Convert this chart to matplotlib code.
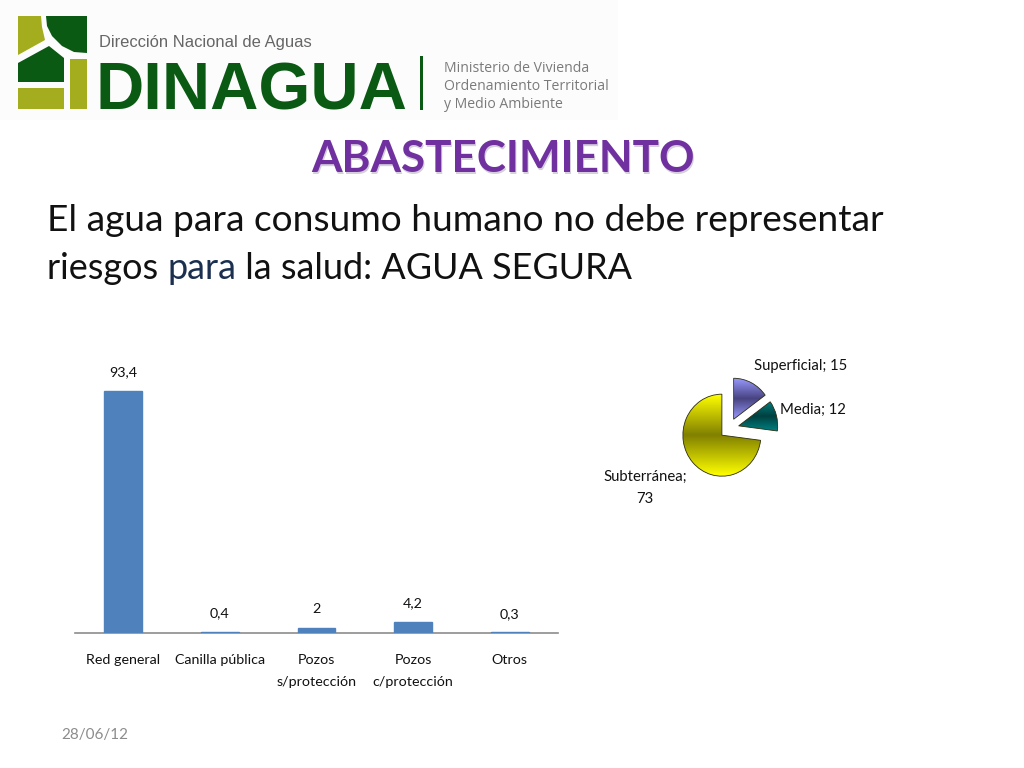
import numpy as np
import matplotlib
matplotlib.use("Agg")
import matplotlib.pyplot as plt
from matplotlib.colors import LinearSegmentedColormap
from matplotlib.patches import Polygon, Rectangle

# bar chart
bar_labels = ["Red general", "Canilla pública", "Pozos\ns/protección", "Pozos\nc/protección", "Otros"]
bar_values = [93.4, 0.4, 2, 4.2, 0.3]
bar_texts = ["93,4", "0,4", "2", "4,2", "0,3"]

# pie chart
pie_labels = ["Superficial; 15", "Media; 12", "Subterránea;\n73"]
pie_values = [15, 12, 73]
pie_gradients = [
    ["#9999ff", "#47437f", "#9999ff"],
    ["#008080", "#004040", "#008080"],
    ["#ffff00", "#807f00", "#ffff00"],
]

W, H = 1024, 768
BODY_FONT = ["Lato", "DejaVu Sans"]


def px_axes(fig, left, top, width, height):
    return fig.add_axes([left / W, 1 - (top + height) / H, width / W, height / H])


def draw_logo(bg):
    bg.add_patch(Rectangle((0, 0), 618, 120, color="#fcfcfc", lw=0))
    light = "#a3ad1e"
    dark = "#0a5a14"
    bg.add_patch(Polygon([(18, 16), (41, 16), (42, 27), (45, 40), (18, 55)], color=light, lw=0))
    bg.add_patch(Polygon([(46, 16), (87, 16), (87, 53), (74, 52), (62, 46), (52, 36), (47, 26)], color=dark, lw=0))
    bg.add_patch(Polygon([(18, 63), (49, 46), (64, 58), (64, 82), (18, 82)], color=dark, lw=0))
    bg.add_patch(Rectangle((18, 88), 46, 21, color=light, lw=0))
    bg.add_patch(Rectangle((70, 59), 17, 50, color=light, lw=0))
    bg.add_patch(Rectangle((420, 56), 2.5, 54, color=dark, lw=0))
    bg.text(99, 43, "Dirección Nacional de Aguas", family="Liberation Sans", fontsize=11.9,
            color="#666666", va="center", ha="left")
    bg.text(96, 110, "DINAGUA", family="Liberation Sans", fontsize=48.2, fontweight="bold", color=dark,
            va="baseline", ha="left")
    for y, line in zip([69, 87, 105], ["Ministerio de Vivienda", "Ordenamiento Territorial", "y Medio Ambiente"]):
        bg.text(444, y, line, family="Open Sans", fontsize=10.1, color="#7a7a7a", va="center", ha="left")


def draw_heading(bg, fig):
    bg.text(504.5, 173.5, "ABASTECIMIENTO", family=BODY_FONT, fontsize=31.7, fontweight="bold", color="#d5d0da",
            ha="center", va="baseline")
    bg.text(503, 172, "ABASTECIMIENTO", family=BODY_FONT, fontsize=31.7, fontweight="bold", color="#7030a0",
            ha="center", va="baseline")
    bg.text(47, 231, "El agua para consumo humano no debe representar", family=BODY_FONT, fontsize=26.7,
            color="#111111", va="baseline")

    # second line in three pieces, "para" is a bit blue in the slide
    x = 47
    renderer = fig.canvas.get_renderer()
    for part, color in [("riesgos ", "#111111"), ("para", "#1b2f4f"), (" la salud: AGUA SEGURA", "#111111")]:
        t = bg.text(x, 279, part, family=BODY_FONT, fontsize=25.9, color=color, va="baseline")
        x = bg.transData.inverted().transform(t.get_window_extent(renderer).get_points())[1, 0]


def draw_bars(fig):
    ax = px_axes(fig, 75, 350, 483, 283)
    x = np.arange(len(bar_values))
    bars = ax.bar(x, bar_values, width=0.39, color="#4f81bd", edgecolor="#4f81bd", linewidth=1, zorder=3)
    ax.set_xlim(-0.5, 4.5)
    ax.set_ylim(0, 109)
    ax.patch.set_alpha(0)
    for side in ["top", "left", "right"]:
        ax.spines[side].set_visible(False)
    ax.spines["bottom"].set_color("#8c8c8c")
    ax.spines["bottom"].set_linewidth(1.2)
    ax.set_yticks([])
    ax.set_xticks(x)
    ax.set_xticklabels(bar_labels, family=BODY_FONT, fontsize=10.3, color="#111111", linespacing=2.0, va="top")
    ax.tick_params(axis="x", length=0, pad=15)
    ax.bar_label(bars, labels=bar_texts, family=BODY_FONT, fontsize=10.3, color="#111111", padding=9)


def draw_pie(fig):
    # radius about 39 px wide and 41 px tall, limits are +-2 radii
    ax = px_axes(fig, 729.2 - 78, 428.4 - 82, 156, 164)
    wedges, _ = ax.pie(pie_values, startangle=90, counterclock=False, explode=[0.25, 0.25, 0.25],
                       wedgeprops={"edgecolor": "#2b2b10", "linewidth": 0.6})
    ax.set_aspect("auto")
    ax.set_xlim(-2, 2)
    ax.set_ylim(-2, 2)
    ax.patch.set_alpha(0)
    for wedge, colors in zip(wedges, pie_gradients):
        box = wedge.get_window_extent(fig.canvas.get_renderer()).transformed(ax.transData.inverted())
        cmap = LinearSegmentedColormap.from_list("shade", colors)
        img = ax.imshow(np.linspace(0, 1, 128).reshape(-1, 1), cmap=cmap, aspect="auto",
                        extent=[box.x0, box.x1, box.y0, box.y1], zorder=wedge.get_zorder() + 0.5)
        img.set_clip_path(wedge)
        wedge.set_facecolor("none")
        wedge.set_zorder(wedge.get_zorder() + 1)
    ax.set_aspect("auto")
    ax.set_xlim(-2, 2)
    ax.set_ylim(-2, 2)


def main():
    fig = plt.figure(figsize=(W / 100, H / 100), dpi=100, facecolor="white")
    bg = fig.add_axes([0, 0, 1, 1])
    bg.set_xlim(0, W)
    bg.set_ylim(H, 0)
    bg.axis("off")

    draw_logo(bg)
    draw_heading(bg, fig)
    bg.text(61, 735, "28/06/12", family=BODY_FONT, fontsize=11, color="#8c8c8c", va="center")

    draw_bars(fig)
    draw_pie(fig)

    bg.text(801, 366, pie_labels[0], family=BODY_FONT, fontsize=10.7, color="#111111", ha="center", va="center")
    bg.text(813, 410, pie_labels[1], family=BODY_FONT, fontsize=10.7, color="#111111", ha="center", va="center")
    bg.text(645, 488, pie_labels[2], family=BODY_FONT, fontsize=10.7, color="#111111", ha="center", va="center",
            linespacing=1.75)

    fig.savefig("out.png", dpi=100)


if __name__ == "__main__":
    main()
